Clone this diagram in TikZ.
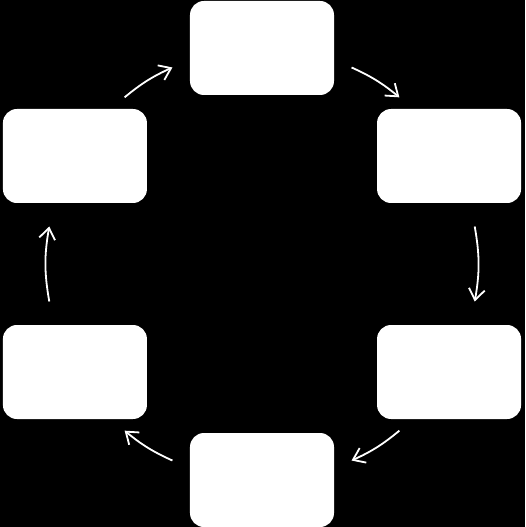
\documentclass[tikz,border=0pt]{standalone}
\usetikzlibrary{arrows.meta}
\begin{document}
\begin{tikzpicture}[x=1pt,y=1pt,
		stage/.style={fill=white, rounded corners=14pt, minimum width=144pt, minimum height=94pt, inner sep=0pt},
		flow/.style={->,>={Straight Barb[length=11pt,width=16pt]}, white, line width=1.8pt}]
	
	\useasboundingbox (-262,-263) rectangle (263,264);
	\fill[black] (-262,-263) rectangle (263,264);
	
	% the six stages
	\node[stage] (top) at (90:216) {};
	\node[stage] (upright) at (30:216) {};
	\node[stage] (lowright) at (-30:216) {};
	\node[stage] (bottom) at (-90:216) {};
	\node[stage] (lowleft) at (-150:216) {};
	\node[stage] (upleft) at (150:216) {};
	
	% arrows round the cycle
	\foreach \s/\e [count=\i] in {65.5/50.5, 10/-10, -50.5/-65.5, -114.5/-129.5, 190/170, 129.5/114.5}{
		\pgfmathsetmacro\h{(\s-\e)/2}
		\coordinate (from\i) at (\s:216);
		\coordinate (to\i) at (\e:216);
		\draw[flow] (from\i) to[bend left=\h] (to\i);
	}
	
\end{tikzpicture}
\end{document}
